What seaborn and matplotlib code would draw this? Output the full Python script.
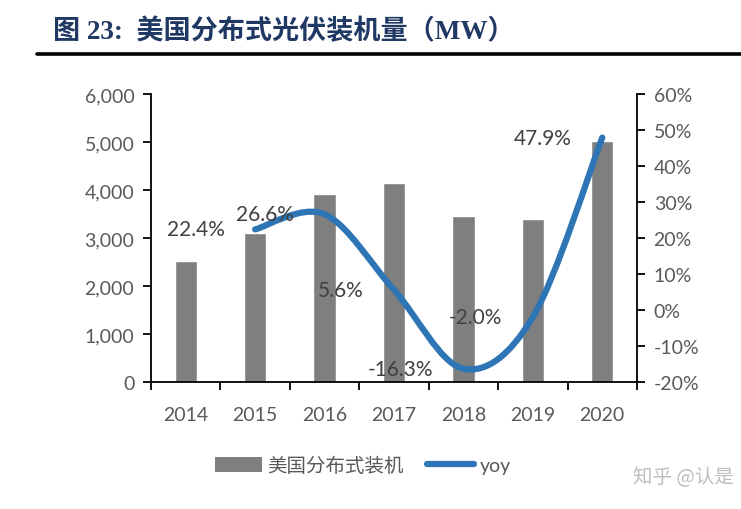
import numpy as np
import pandas as pd
import matplotlib
matplotlib.use("Agg")
import matplotlib.pyplot as plt
from matplotlib.path import Path
from matplotlib.patches import PathPatch, Patch
from matplotlib.lines import Line2D
from matplotlib.ticker import FuncFormatter, FixedLocator
import seaborn as sns

years = ["2014", "2015", "2016", "2017", "2018", "2019", "2020"]
install_mw = [2530, 3100, 3920, 4140, 3460, 3390, 5030]
yoy_years = ["2015", "2016", "2017", "2018", "2019", "2020"]
yoy_pct = [22.4, 26.6, 5.6, -16.3, -2.0, 47.9]
bar_label = "美国分布式装机"
line_label = "yoy"
title = "图 23:  美国分布式光伏装机量（MW）"

sns.set_theme(style="white")
plt.rcParams["font.family"] = ["Lato", "Noto Sans CJK SC", "DejaVu Sans"]

BAR = "#7f7f7f"
BLUE = "#2e75b6"
TXT = "#595959"

df = pd.DataFrame({"year": years, "mw": install_mw})

fig = plt.figure(figsize=(7.41, 5.10), dpi=100)
ax = fig.add_axes([0.2038, 0.249, 0.6558, 0.5647])
sns.barplot(data=df, x="year", y="mw", color=BAR, width=0.32, saturation=1, ax=ax, zorder=2)
ax.set_ylim(0, 6000)
ax.set_xlim(-0.5, len(years) - 0.5)
ax.set_yticks(np.arange(0, 6001, 1000))
ax.yaxis.set_major_formatter(FuncFormatter(lambda v, p: f"{int(v):,}"))
ax.set_xlabel("")
ax.set_ylabel("")
for s in ["top", "right"]:
    ax.spines[s].set_visible(False)
for s in ["left", "bottom"]:
    ax.spines[s].set_color("black")
    ax.spines[s].set_linewidth(1.3)
ax.tick_params(axis="y", direction="out", length=6, width=1.3, color="black",
               labelsize=14, labelcolor=TXT, pad=6, left=True)
ax.tick_params(axis="x", which="major", length=0, labelsize=14, labelcolor=TXT, pad=17)
ax.xaxis.set_minor_locator(FixedLocator(np.arange(-0.5, len(years), 1.0)))
ax.tick_params(axis="x", which="minor", direction="out", length=6, width=1.3, color="black", bottom=True)

ax2 = ax.twinx()
ax2.set_ylim(-20, 60)
ax2.set_yticks(np.arange(-20, 61, 10))
ax2.yaxis.set_major_formatter(FuncFormatter(lambda v, p: f"{int(v)}%"))
for s in ["top", "left", "bottom"]:
    ax2.spines[s].set_visible(False)
ax2.spines["right"].set_color("black")
ax2.spines["right"].set_linewidth(1.3)
ax2.tick_params(axis="y", direction="out", length=6, width=1.3, color="black",
                labelsize=14, labelcolor=TXT, pad=6, right=True)
ax2.grid(False)
ax.grid(False)

# smooth (Catmull-Rom style Bezier) rendering of the yoy series
xs = np.array([years.index(y) for y in yoy_years], dtype=float)
ys = np.array(yoy_pct, dtype=float)
pts = np.column_stack([xs, ys])
verts = [tuple(pts[0])]
codes = [Path.MOVETO]
n = len(pts)
for i in range(n - 1):
    p0 = pts[i - 1] if i > 0 else pts[i]
    p1 = pts[i]
    p2 = pts[i + 1]
    p3 = pts[i + 2] if i + 2 < n else pts[i + 1]
    c1 = p1 + (p2 - p0) / 6.0
    c2 = p2 - (p3 - p1) / 6.0
    verts += [tuple(c1), tuple(c2), tuple(p2)]
    codes += [Path.CURVE4, Path.CURVE4, Path.CURVE4]
patch = PathPatch(Path(verts, codes), facecolor="none", edgecolor=BLUE, lw=4.5,
                  capstyle="round", joinstyle="round", transform=ax2.transData, zorder=3)
ax2.add_patch(patch)

for x, y in zip(xs, ys):
    ax2.annotate(f"{y:.1f}%", (x, y), xytext=(-22, 0), textcoords="offset points",
                 ha="right", va="center", fontsize=15, color="#404040", zorder=4)

# title and rule
fig.text(0.072, 0.937, title, fontsize=19.5, fontweight="bold", color="#1f3864",
         family=["Liberation Serif", "Noto Sans CJK SC"], ha="left", va="center")
fig.add_artist(Line2D([0.05, 1.0], [0.892, 0.892], color="black", lw=2.6))

handles = [Patch(facecolor=BAR, edgecolor="none"),
           Line2D([0], [0], color=BLUE, lw=4.5, solid_capstyle="round")]
leg = fig.legend(handles, [bar_label, line_label], loc="center", bbox_to_anchor=(0.49, 0.086),
                 ncol=2, frameon=False, fontsize=14, handlelength=2.4, handleheight=0.8,
                 columnspacing=1.2, handletextpad=0.3)
for t in leg.get_texts():
    t.set_color(TXT)

fig.text(0.99, 0.063, "知乎 @认是", fontsize=14, color="#bdbdbd",
         family=["Noto Sans CJK SC"], ha="right", va="center")

fig.savefig("out.png", dpi=100)
